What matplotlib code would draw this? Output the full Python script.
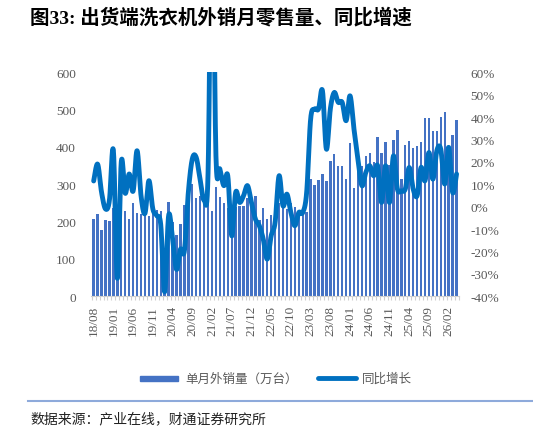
import numpy as np
import pandas as pd
import matplotlib
matplotlib.use('Agg')
import matplotlib.pyplot as plt
from matplotlib.patches import Rectangle
from matplotlib.lines import Line2D

# ---------------- data ----------------
sales = [206, 221, 177, 205, 202, 237, 150, 228, 229, 207,
         250, 222, 220, 232, 215, 235, 230, 228, 95, 253,
         198, 163, 194, 245, 289, 300, 262, 270, 255, 277,
         228, 293, 267, 250, 236, 240, 239, 241, 243, 262,
         258, 268, 205, 236, 207, 218, 240, 250, 245, 235,
         250, 240, 225, 227, 227, 314, 298, 312, 328, 310,
         362, 380, 350, 350, 314, 411, 291, 340, 350, 375,
         384, 360, 426, 384, 412, 352, 420, 446, 314, 405,
         416, 396, 403, 414, 477, 477, 442, 442, 479, 495,
         400, 432, 473]

yoy = [11.5, 19, 6.4, -1, 3, 25, -32, 20, 6, 14.6,
       7, 25, 5, -3, 11.6, -1, -4, -8, -38, -4,
       -14.5, -28, -19, -19.7, 6.4, 21.3, 22, 12, 3, 15,
       140, 22.7, 16.8, 9.4, 13.8, -13, 6.4, 1.9, 4.9, 9.4,
       1.9, -5.5, -8.5, -14.5, -23.4, -13, -7, 13.8, 0.4, 5.6,
       -2.6, -8.5, -2.6, -2.6, 6.4, 39, 43.6, 43.6, 51.8, 25.7,
       43.6, 51, 46.6, 46.6, 38.4, 49.5, 34.6, 21.3, 9.4, 15.3,
       18.3, 13.8, 18.3, 1.9, 18.3, 1.9, 22.7, 7.9, 7.1, 7.9,
       17.5, 7.9, 4.9, 17.5, 11.6, 24.2, 12.3, 25, 25.7, 10.1,
       26.5, 6.4, 14.6]

months = pd.period_range('2018-08', periods=len(sales), freq='M').strftime('%y/%m').tolist()

title = '图33: 出货端洗衣机外销月零售量、同比增速'
bar_label = '单月外销量（万台）'
line_label = '同比增长'
source = '数据来源：产业在线，财通证券研究所'

left_ticks = [0, 100, 200, 300, 400, 500, 600]
right_ticks = [-40, -30, -20, -10, 0, 10, 20, 30, 40, 50, 60]

BAR_C = '#4472C4'
LINE_C = '#0070C0'
GRAY = '#595959'
SERIF = ['Liberation Serif', 'DejaVu Serif']
CJK = ['Noto Sans CJK SC', 'DejaVu Sans']


def smooth(x, y, n=20):
    x = np.asarray(x, float)
    y = np.asarray(y, float)
    px = np.concatenate([[x[0]], x, [x[-1]]])
    py = np.concatenate([[y[0]], y, [y[-1]]])
    xs, ys = [], []
    t = np.linspace(0, 1, n, endpoint=False)
    for i in range(len(x) - 1):
        p0x, p1x, p2x, p3x = px[i:i + 4]
        p0y, p1y, p2y, p3y = py[i:i + 4]
        c1x, c1y = p1x + (p2x - p0x) / 6, p1y + (p2y - p0y) / 6
        c2x, c2y = p2x - (p3x - p1x) / 6, p2y - (p3y - p1y) / 6
        b0 = (1 - t) ** 3
        b1 = 3 * (1 - t) ** 2 * t
        b2 = 3 * (1 - t) * t ** 2
        b3 = t ** 3
        xs.append(b0 * p1x + b1 * c1x + b2 * c2x + b3 * p2x)
        ys.append(b0 * p1y + b1 * c1y + b2 * c2y + b3 * p2y)
    xs.append([x[-1]])
    ys.append([y[-1]])
    return np.concatenate(xs), np.concatenate(ys)


fig = plt.figure(figsize=(5.33, 4.31), dpi=100)
ax = fig.add_axes([0.1713, 0.3102, 0.6897, 0.5197])
ax2 = ax.twinx()

x = np.arange(len(sales))
ax.bar(x, sales, width=0.6, color=BAR_C, zorder=2)
sx, sy = smooth(x, yoy)
ax2.plot(sx, sy, color=LINE_C, lw=3.5, solid_capstyle='round', solid_joinstyle='round')

ax.set_xlim(-0.6, len(sales) - 0.4)
ax.set_ylim(0, 600)
ax2.set_ylim(-40, 60)
ax.set_yticks(left_ticks)
ax.set_yticklabels([str(v) for v in left_ticks], fontfamily=SERIF, fontsize=9.5, color=GRAY)
ax2.set_yticks(right_ticks)
ax2.set_yticklabels([f'{v}%' for v in right_ticks], fontfamily=SERIF, fontsize=9.5, color=GRAY)
ax.tick_params(axis='y', length=0, pad=11)
ax2.tick_params(axis='y', length=0, pad=8.5)

ax.set_xticks(x[::5])
ax.set_xticklabels(months[::5], rotation=90, fontfamily=SERIF, fontsize=9.5, color=GRAY)
ax.set_xticks(np.arange(len(sales) + 1) - 0.5, minor=True)
ax.tick_params(axis='x', which='major', length=0, pad=6)
ax.tick_params(axis='x', which='minor', length=3, color='#D0D0D0', width=0.8)

for a in (ax, ax2):
    for s in ('top', 'left', 'right'):
        a.spines[s].set_visible(False)
    a.spines['bottom'].set_color('#D0D0D0')
ax2.spines['bottom'].set_visible(False)

# title
fig.text(30 / 533, 1 - 18 / 431, title, fontsize=14, fontweight='bold',
         family=['Liberation Serif', 'Noto Sans CJK SC', 'DejaVu Sans'],
         va='center', ha='left')

# legend (manual)
ly = 1 - 379 / 431
fig.add_artist(Rectangle((140 / 533, ly - 2.5 / 431), 38 / 533, 5 / 431,
                         transform=fig.transFigure, color=BAR_C))
fig.text(185 / 533, ly, bar_label, fontsize=9, family=CJK, color=GRAY, va='center', ha='left')
fig.add_artist(Line2D([318 / 533, 356 / 533], [ly, ly], transform=fig.transFigure,
                      color=LINE_C, lw=3.5, solid_capstyle='round'))
fig.text(362 / 533, ly, line_label, fontsize=9, family=CJK, color=GRAY, va='center', ha='left')

# separator and source
sy_ = 1 - 402 / 431
fig.add_artist(Line2D([28 / 533, 1.0], [sy_, sy_], transform=fig.transFigure,
                      color='#8EAADB', lw=1.5))
fig.text(30 / 533, 1 - 419 / 431, source, fontsize=10, family=CJK, color='#222222',
         va='center', ha='left')

fig.savefig('out.png', dpi=100)
